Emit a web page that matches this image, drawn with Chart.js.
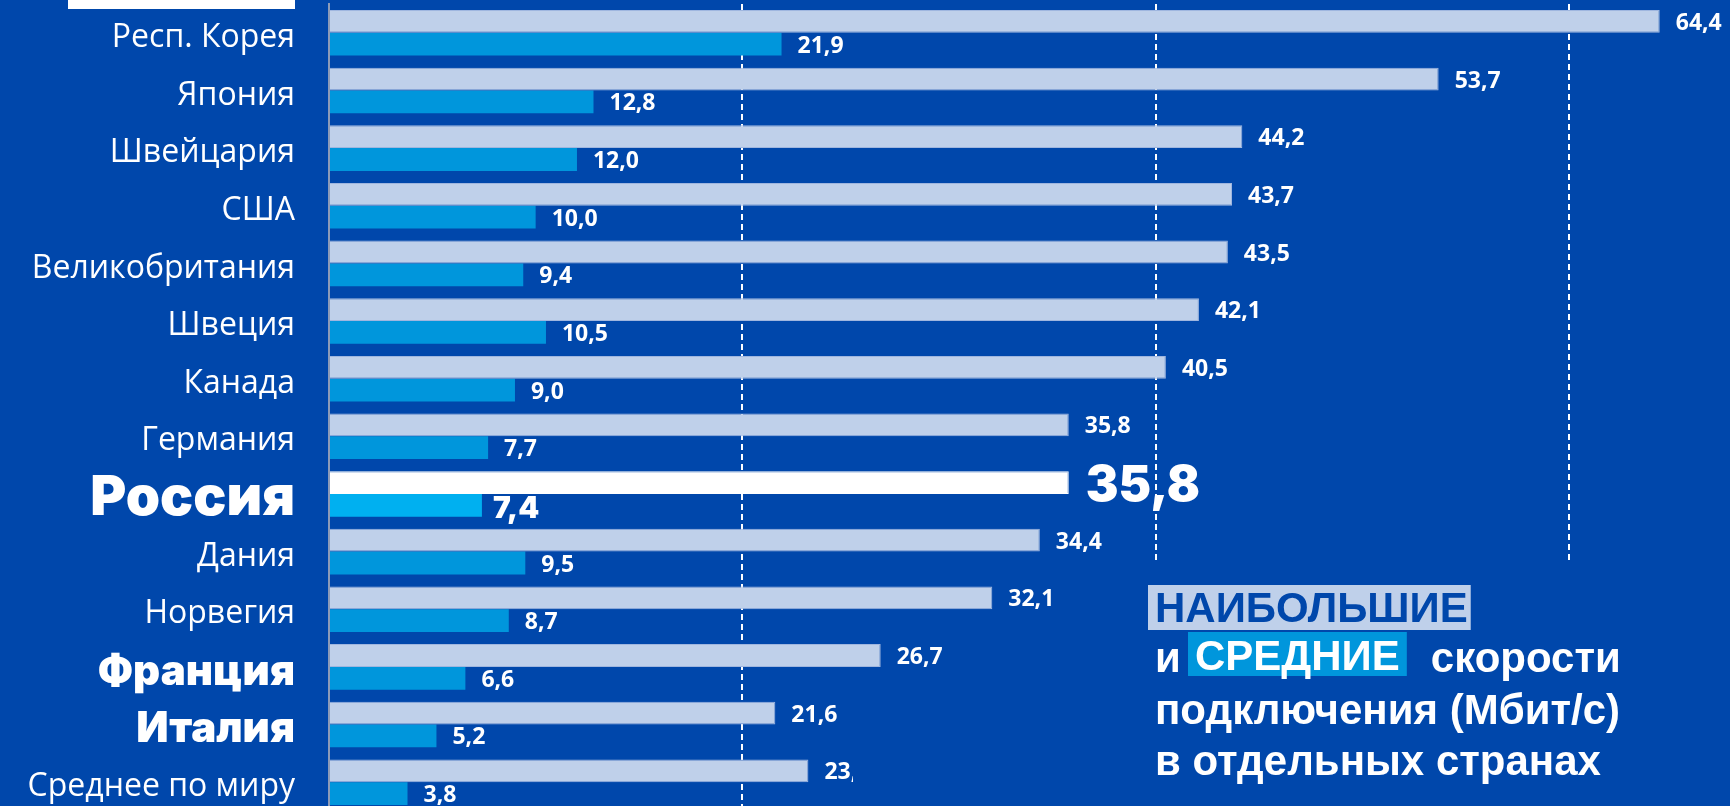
<!DOCTYPE html>
<html>
<head>
<meta charset="utf-8">
<script src="https://cdn.jsdelivr.net/npm/chart.js@4.4.0/dist/chart.umd.min.js"></script>
<style>
  html, body { margin: 0; padding: 0; background: #0047ab; overflow: hidden; }
  canvas { display: block; }
</style>
</head>
<body>
<canvas id="speeds" width="1730" height="812"></canvas>
<script>
// страны и скорости (Мбит/с)
const categories = ['Респ. Корея', 'Япония', 'Швейцария', 'США', 'Великобритания', 'Швеция', 'Канада',
  'Германия', 'Россия', 'Дания', 'Норвегия', 'Франция', 'Италия', 'Среднее по миру'];
const maxSpeed = [64.4, 53.7, 44.2, 43.7, 43.5, 42.1, 40.5, 35.8, 35.8, 34.4, 32.1, 26.7, 21.6, 23.2];
const avgSpeed = [21.9, 12.8, 12.0, 10.0, 9.4, 10.5, 9.0, 7.7, 7.4, 9.5, 8.7, 6.6, 5.2, 3.8];
const gridValues = [20, 40, 60];
const mainCountry = 'Россия';
const boldCountries = ['Франция', 'Италия'];

const BG = '#0047ab';
const LIGHT = '#bfd0ea';
const MID = '#0096dc';
const heavy = '"Inter", "DejaVu Sans", sans-serif';

const fmt = v => v.toFixed(1).replace('.', ',');

const valueLabels = {
  id: 'valueLabels',
  afterDatasetsDraw(chart) {
    const ctx = chart.ctx;
    ctx.save();
    ctx.textAlign = 'left';
    ctx.textBaseline = 'middle';
    ctx.fillStyle = '#ffffff';
    chart.data.datasets.forEach((ds, di) => {
      chart.getDatasetMeta(di).data.forEach((bar, i) => {
        const main = categories[i] === mainCountry;
        let dx = 16, dy = 2;
        if (main) {
          ctx.font = di === 0 ? `900 49px ${heavy}` : `900 30px ${heavy}`;
          dx = di === 0 ? 17 : 11;
          dy = 4;
        } else {
          ctx.font = 'bold 23px "Open Sans", sans-serif';
        }
        ctx.save();
        if (i === categories.length - 1 && di === 0) {
          // подпись обрезана в оригинале
          ctx.beginPath();
          ctx.rect(0, 0, 853, chart.height);
          ctx.clip();
        }
        ctx.fillText(fmt(ds.data[i]), bar.x + dx, bar.y + dy);
        ctx.restore();
      });
    });
    ctx.restore();
  }
};

const captionBox = {
  id: 'captionBox',
  afterDraw(chart) {
    const ctx = chart.ctx;
    ctx.save();
    // белая плашка сверху слева
    ctx.fillStyle = '#ffffff';
    ctx.fillRect(68, 0, 227, 9);
    // фон под подписью закрывает сетку
    ctx.fillStyle = BG;
    ctx.fillRect(1100, 562, 630, 250);

    ctx.font = 'bold 42px "Liberation Sans", Arial, sans-serif';
    ctx.textBaseline = 'alphabetic';
    const x0 = 1155;
    let w = ctx.measureText('НАИБОЛЬШИЕ').width;
    ctx.fillStyle = LIGHT;
    ctx.fillRect(x0 - 7, 585, w + 10, 45);
    ctx.fillStyle = BG;
    ctx.fillText('НАИБОЛЬШИЕ', x0, 622);

    ctx.fillStyle = '#ffffff';
    ctx.fillText('и', x0, 672);
    const sx = 1188;
    w = ctx.measureText('СРЕДНИЕ').width;
    ctx.fillStyle = MID;
    ctx.fillRect(sx, 632, w + 14, 44);
    ctx.fillStyle = '#ffffff';
    ctx.fillText('СРЕДНИЕ', sx + 7, 670);
    ctx.fillText('скорости', sx + w + 38, 672);
    ctx.fillText('подключения (Мбит/с)', x0, 724);
    ctx.fillText('в отдельных странах', x0, 775);
    ctx.restore();
  }
};

new Chart(document.getElementById('speeds'), {
  type: 'bar',
  data: {
    labels: categories,
    datasets: [{
      label: 'Наибольшие',
      data: maxSpeed,
      backgroundColor: ctx => categories[ctx.dataIndex] === mainCountry ? '#ffffff' : LIGHT,
      borderColor: ctx => categories[ctx.dataIndex] === mainCountry ? '#ffffff' : '#9fb6df',
      borderWidth: 1,
      categoryPercentage: 0.79,
      barPercentage: 1.0
    }, {
      label: 'Средние',
      data: avgSpeed,
      backgroundColor: ctx => categories[ctx.dataIndex] === mainCountry ? '#00b0f0' : MID,
      borderWidth: 0,
      categoryPercentage: 0.79,
      barPercentage: 1.0
    }]
  },
  options: {
    indexAxis: 'y',
    responsive: false,
    animation: false,
    layout: { padding: { top: 4, bottom: 1, left: 0, right: 0 } },
    plugins: {
      legend: { display: false },
      tooltip: { enabled: false }
    },
    scales: {
      x: {
        min: 0,
        max: 67.8,
        z: 1,
        afterFit: s => { s.height = 0; s.paddingLeft = 0; s.paddingRight = 0; },
        ticks: { display: false, stepSize: 20 },
        grid: {
          drawTicks: false,
          lineWidth: 2,
          color: ctx => gridValues.includes(ctx.tick && ctx.tick.value) ? '#ffffff' : 'rgba(0,0,0,0)'
        },
        border: { display: false, dash: [6, 4] }
      },
      y: {
        afterFit: s => { s.width = 329; s.paddingTop = 0; s.paddingBottom = 0; },
        grid: { display: false, drawTicks: false },
        border: { color: '#8c9bb8', width: 2 },
        ticks: {
          color: '#ffffff',
          padding: 34,
          labelOffset: 5,
          autoSkip: false,
          font: ctx => {
            const name = categories[ctx.index];
            if (name === mainCountry) return { family: heavy, size: 55, weight: 900 };
            if (boldCountries.includes(name)) return { family: heavy, size: 42, weight: 900 };
            return { family: '"Open Sans", sans-serif', size: 32 };
          }
        }
      }
    }
  },
  plugins: [valueLabels, captionBox]
});
</script>
</body>
</html>
